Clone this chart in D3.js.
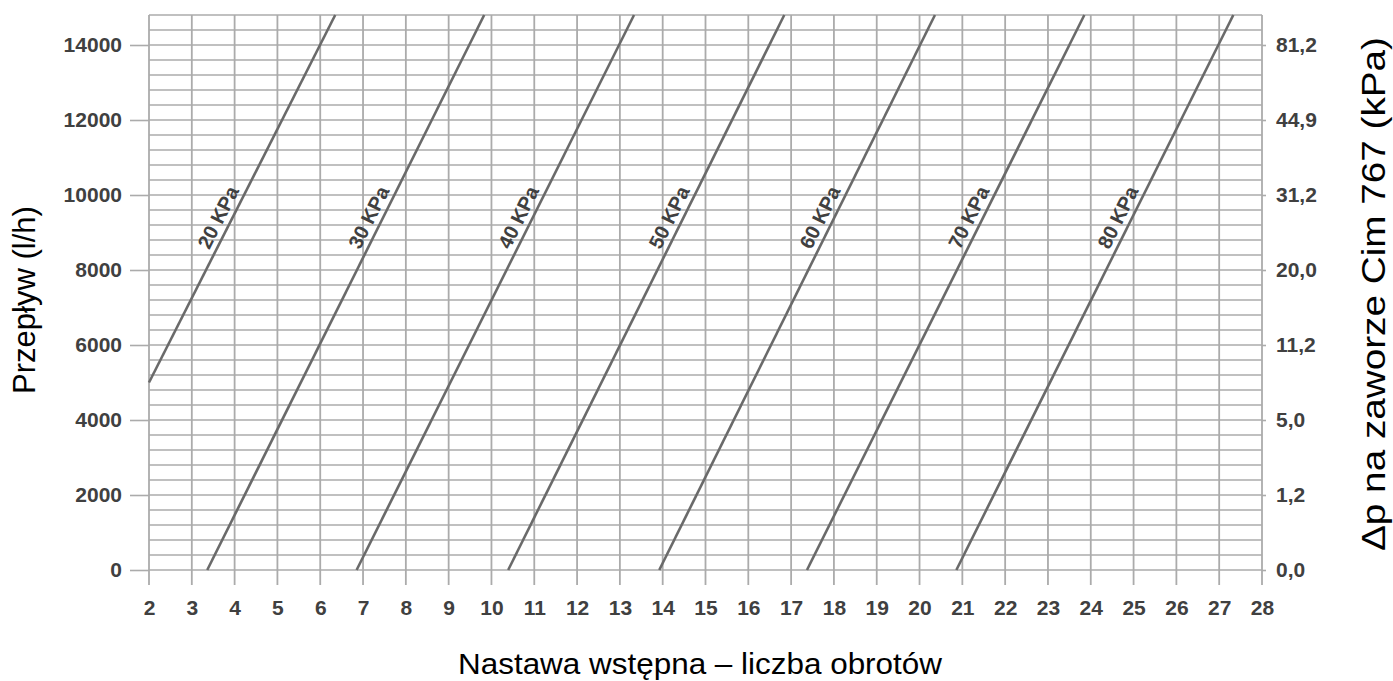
<!DOCTYPE html>
<html>
<head>
<meta charset="utf-8">
<script src="https://cdn.jsdelivr.net/npm/d3@7"></script>
<style>
  body { margin: 0; background: #fff; }
  text { font-family: "Liberation Sans", Arial, sans-serif; }
</style>
</head>
<body>
<div id="chart"></div>
<script>
// tick labels
let turnTicks = [2, 3, 4, 5, 6, 7, 8, 9, 10, 11, 12, 13, 14, 15, 16, 17, 18, 19, 20, 21, 22, 23, 24, 25, 26, 27, 28]
let flowTicks = [0, 2000, 4000, 6000, 8000, 10000, 12000, 14000]
let dpLabels = ["0,0", "1,2", "5,0", "11,2", "20,0", "31,2", "44,9", "81,2"]

// pressure lines: [turns, flow] at start and end
let pressureNames = ["20 KPa", "30 KPa", "40 KPa", "50 KPa", "60 KPa", "70 KPa", "80 KPa"]
let lineStart = [[2, 5000], [3.36, 0], [6.85, 0], [10.39, 0], [13.92, 0], [17.37, 0], [20.86, 0]]
let lineEnd = [[6.35, 14800], [9.83, 14800], [13.33, 14800], [16.84, 14800], [20.36, 14800], [23.85, 14800], [27.33, 14800]]
let labelFlow = 9250

let margin = { top: 15, right: 131, bottom: 111, left: 149 }
let width = 1393 - margin.left - margin.right,
    height = 681 - margin.top - margin.bottom

let svg = d3.select("#chart").append("svg")
    .attr("width", width + margin.left + margin.right)
    .attr("height", height + margin.top + margin.bottom)

let g = svg.append("g")
    .attr("transform", "translate(" + margin.left + "," + margin.top + ")")

let x = d3.scaleLinear().domain([2, 28]).range([0, width])
let y = d3.scaleLinear().domain([0, 14800]).range([height, 0])

let gridColor = "#ababab"
let tickText = "#404040"

// minor horizontal grid every 400 l/h
g.append("g").selectAll("line")
    .data(d3.range(0, 14801, 400))
    .enter().append("line")
    .attr("x1", 0)
    .attr("x2", width)
    .attr("y1", d => y(d))
    .attr("y2", d => y(d))
    .attr("stroke", gridColor)
    .attr("stroke-width", 1.6)

// vertical grid, running down as ticks
g.append("g").selectAll("line")
    .data(turnTicks)
    .enter().append("line")
    .attr("x1", d => x(d))
    .attr("x2", d => x(d))
    .attr("y1", 0)
    .attr("y2", height + 15)
    .attr("stroke", gridColor)
    .attr("stroke-width", 1.8)

// left axis
let yAx = g.append("g")
    .call(d3.axisLeft(y).tickValues(flowTicks).tickSize(19).tickPadding(8).tickFormat(d3.format("d")))
yAx.select(".domain").remove()
yAx.selectAll("line").attr("stroke", gridColor).attr("stroke-width", 1.6)
yAx.selectAll("text")
    .attr("fill", tickText)
    .style("font-size", "21px")
    .style("font-weight", "bold")

// right axis
let yAxR = g.append("g")
    .attr("transform", "translate(" + width + ",0)")
    .call(d3.axisRight(y).tickValues(flowTicks).tickSize(4).tickPadding(10)
        .tickFormat((d, i) => dpLabels[i]))
yAxR.select(".domain").remove()
yAxR.selectAll("line").attr("stroke", gridColor).attr("stroke-width", 1.6)
yAxR.selectAll("text")
    .attr("fill", tickText)
    .style("font-size", "21px")
    .style("font-weight", "bold")

// bottom axis labels
let xAx = g.append("g")
    .attr("transform", "translate(0," + height + ")")
    .call(d3.axisBottom(x).tickValues(turnTicks).tickSize(0).tickPadding(30))
xAx.select(".domain").remove()
xAx.selectAll("text")
    .attr("fill", tickText)
    .style("font-size", "21px")
    .style("font-weight", "bold")

// pressure lines
let lineData = pressureNames.map((name, i) => ({ name: name, pts: [lineStart[i], lineEnd[i]] }))

let line = d3.line()
    .x(d => x(d[0]))
    .y(d => y(d[1]))

g.append("g").selectAll("path")
    .data(lineData)
    .enter().append("path")
    .attr("fill", "none")
    .attr("stroke", "#6a6a6a")
    .attr("stroke-width", 2.6)
    .attr("d", d => line(d.pts))

// labels along the lines
g.append("g").selectAll("text")
    .data(lineData)
    .enter().append("text")
    .attr("transform", function(d) {
        let a = d.pts[0], b = d.pts[1]
        let t = (labelFlow - a[1]) / (b[1] - a[1])
        let px = x(a[0] + t * (b[0] - a[0]))
        let py = y(labelFlow)
        let ang = Math.atan2(y(b[1]) - y(a[1]), x(b[0]) - x(a[0])) * 180 / Math.PI
        return "translate(" + px + "," + py + ")rotate(" + ang + ")"
    })
    .attr("dy", "-6")
    .attr("text-anchor", "middle")
    .attr("fill", tickText)
    .style("font-size", "20px")
    .style("font-weight", "bold")
    .text(d => d.name)

// axis titles
svg.append("text")
    .attr("x", 700)
    .attr("y", 674)
    .attr("text-anchor", "middle")
    .attr("fill", "#000")
    .attr("textLength", 484)
    .attr("lengthAdjust", "spacingAndGlyphs")
    .style("font-size", "30px")
    .text("Nastawa wstępna – liczba obrotów")

svg.append("text")
    .attr("transform", "translate(35,300)rotate(-90)")
    .attr("text-anchor", "middle")
    .attr("fill", "#000")
    .style("font-size", "31px")
    .text("Przepływ (l/h)")

svg.append("text")
    .attr("transform", "translate(1385,294)rotate(-90)")
    .attr("text-anchor", "middle")
    .attr("fill", "#000")
    .attr("textLength", 514)
    .attr("lengthAdjust", "spacingAndGlyphs")
    .style("font-size", "33px")
    .text("Δp na zaworze Cim 767 (kPa)")
</script>
</body>
</html>
